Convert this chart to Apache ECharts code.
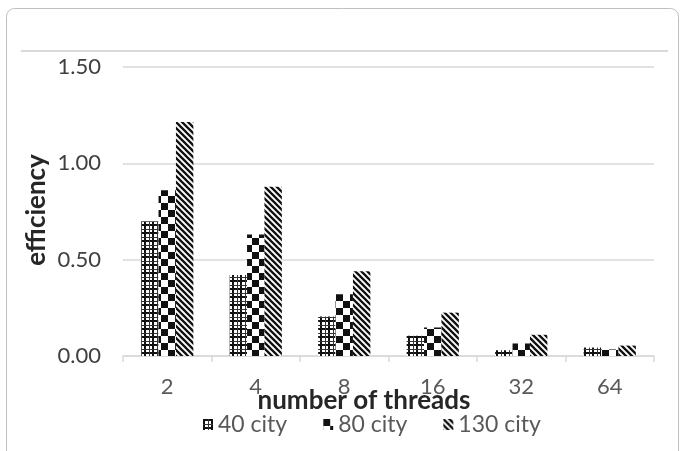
<!DOCTYPE html>
<html>
<head>
<meta charset="utf-8">
<script src="https://cdn.jsdelivr.net/npm/echarts@6/dist/echarts.min.js"></script>
<style>
html,body{margin:0;padding:0;background:#fff;}
#chart{width:680px;height:451px;}
</style>
</head>
<body>
<div id="chart"></div>
<script>
// ---- data ----
const categories = ['2', '4', '8', '16', '32', '64'];
const seriesNames = ['40 city', '80 city', '130 city'];
const city40 = [0.70, 0.42, 0.205, 0.105, 0.03, 0.044];
const city80 = [0.86, 0.63, 0.32, 0.148, 0.065, 0.034];
const city130 = [1.215, 0.878, 0.44, 0.225, 0.11, 0.054];
const yTicks = [0, 0.5, 1.0, 1.5];

// ---- patterns ----
function makeCanvas(w, h) {
  const c = document.createElement('canvas');
  c.width = w; c.height = h;
  return c;
}
function gridPattern() {
  const c = makeCanvas(8, 8), g = c.getContext('2d');
  g.fillStyle = '#fff'; g.fillRect(0, 0, 8, 8);
  g.fillStyle = '#111';
  g.fillRect(0, 0, 2, 8);
  g.fillRect(0, 0, 8, 2);
  g.fillStyle = '#333';
  g.fillRect(5, 0, 1, 8);
  g.fillRect(0, 5, 8, 1);
  return c;
}
function checkerPattern() {
  const c = makeCanvas(14, 14), g = c.getContext('2d');
  g.fillStyle = '#fff'; g.fillRect(0, 0, 14, 14);
  g.fillStyle = '#111';
  g.fillRect(0, 0, 7, 7);
  g.fillRect(7, 7, 7, 7);
  return c;
}
function diagPattern() {
  const s = 6;
  const c = makeCanvas(s, s), g = c.getContext('2d');
  g.fillStyle = '#fff'; g.fillRect(0, 0, s, s);
  g.strokeStyle = '#111'; g.lineWidth = 2.3;
  g.beginPath();
  g.moveTo(-s, 0); g.lineTo(s * 2, s * 3);
  g.moveTo(-s, -s); g.lineTo(s * 2, s * 2);
  g.moveTo(0, -s); g.lineTo(s * 2, s);
  g.moveTo(-2 * s, -s); g.lineTo(s, 2 * s);
  g.stroke();
  return c;
}
const patterns = [gridPattern(), checkerPattern(), diagPattern()];
const dataSets = [city40, city80, city130];

const FONT = 'Lato, "Liberation Sans", sans-serif';

const chart = echarts.init(document.getElementById('chart'), null, {renderer: 'canvas'});
chart.setOption({
  animation: false,
  backgroundColor: '#fff',
  grid: {left: 123, right: 26, top: 67, bottom: 95, containLabel: false},
  xAxis: {
    type: 'category',
    data: categories,
    axisLine: {lineStyle: {color: '#d9d9d9', width: 1.5}},
    axisTick: {show: true, length: 6, lineStyle: {color: '#d9d9d9', width: 1.5}},
    axisLabel: {color: '#595959', fontSize: 22, fontFamily: FONT, margin: 20}
  },
  yAxis: {
    type: 'value',
    min: yTicks[0],
    max: yTicks[yTicks.length - 1],
    interval: 0.5,
    axisLine: {show: false},
    axisTick: {show: false},
    axisLabel: {
      color: '#404040', fontSize: 22, fontFamily: FONT, margin: 22,
      formatter: v => v.toFixed(2)
    },
    splitLine: {lineStyle: {color: '#d9d9d9', width: 1.5}}
  },
  legend: {
    data: seriesNames,
    left: 198,
    top: 408,
    icon: 'rect',
    itemWidth: 10,
    itemHeight: 11,
    itemGap: 36,
    textStyle: {color: '#595959', fontSize: 23, fontFamily: FONT}
  },
  series: seriesNames.map((name, i) => ({
    name: name,
    type: 'bar',
    data: dataSets[i],
    barGap: '0%',
    barCategoryGap: '41%',
    itemStyle: {color: {image: patterns[i], repeat: 'repeat'}}
  })),
  graphic: [
    {type: 'rect', silent: true, z: -1,
      shape: {x: 6.5, y: 8.5, width: 672, height: 470, r: 8},
      style: {fill: 'none', stroke: '#bfbfbf', lineWidth: 1}},
    {type: 'line', silent: true,
      shape: {x1: 21, y1: 51, x2: 668, y2: 51},
      style: {stroke: '#d9d9d9', lineWidth: 2}},
    {type: 'text', silent: true, z: 100,
      x: 364, y: 401,
      style: {text: 'number of threads', fill: '#262626', font: 'bold 26px ' + FONT,
        align: 'center', verticalAlign: 'middle'}},
    {type: 'text', silent: true, z: 100,
      x: 37, y: 210, rotation: Math.PI / 2,
      style: {text: 'efficiency', fill: '#262626', font: 'bold 26px ' + FONT,
        align: 'center', verticalAlign: 'middle'}}
  ]
});
</script>
</body>
</html>
